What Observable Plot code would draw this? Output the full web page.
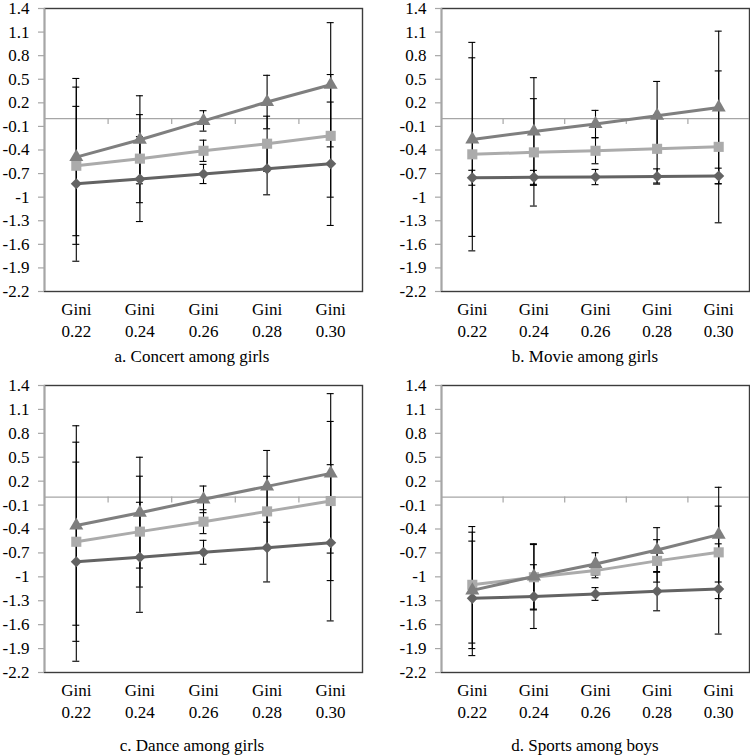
<!DOCTYPE html>
<html>
<head>
<meta charset="utf-8">
<script src="https://cdn.jsdelivr.net/npm/d3@7"></script>
<script src="https://cdn.jsdelivr.net/npm/@observablehq/plot@0.6"></script>
<style>
  body { margin: 0; background: #fff; }
  #root { position: relative; width: 750px; height: 756px; font-family: 'Liberation Serif', 'Times New Roman', Times, 'Nimbus Roman', 'FreeSerif', 'DejaVu Serif', 'Noto Serif', serif; color: #000; }
  .panel { position: absolute; }
  .panel svg { overflow: visible; }
  .panel svg text { font-family: 'Liberation Serif', 'Times New Roman', Times, 'Nimbus Roman', 'FreeSerif', 'DejaVu Serif', 'Noto Serif', serif; }
  .cap { position: absolute; font-size: 17px; line-height: 20px; text-align: center; white-space: nowrap; color: #000; }
</style>
</head>
<body>
<div id="root"></div>
<script>
// ---------- categories & tick labels ----------
const giniValues = [0.22, 0.24, 0.26, 0.28, 0.30];
const giniLabels = ["Gini\n0.22", "Gini\n0.24", "Gini\n0.26", "Gini\n0.28", "Gini\n0.30"];
const yTickValues = [1.4, 1.1, 0.8, 0.5, 0.2, -0.1, -0.4, -0.7, -1, -1.3, -1.6, -1.9, -2.2];
const yTickLabels = ["1.4", "1.1", "0.8", "0.5", "0.2", "-0.1", "-0.4", "-0.7", "-1", "-1.3", "-1.6", "-1.9", "-2.2"];
const panelTitles = ["a. Concert among girls", "b. Movie among girls", "c. Dance among girls", "d. Sports among boys"];

// ---------- a. Concert among girls ----------
const concertTriangle    = [-0.49, -0.27, -0.03, 0.21, 0.43];
const concertTriangleErr = [1.00, 0.56, 0.13, 0.34, 0.79];
const concertSquare      = [-0.60, -0.51, -0.41, -0.32, -0.22];
const concertSquareErr   = [1.00, 0.56, 0.135, 0.35, 0.78];
const concertDiamond     = [-0.83, -0.77, -0.705, -0.64, -0.575];
const concertDiamondErr  = [0.985, 0.54, 0.122, 0.33, 0.785];

// ---------- b. Movie among girls ----------
const movieTriangle    = [-0.265, -0.165, -0.069, 0.037, 0.142];
const movieTriangleErr = [1.234, 0.685, 0.173, 0.435, 0.97];
const movieSquare      = [-0.455, -0.43, -0.41, -0.385, -0.36];
const movieSquareErr   = [1.228, 0.683, 0.165, 0.435, 0.966];
const movieDiamond     = [-0.753, -0.748, -0.744, -0.737, -0.731];
const movieDiamondErr  = [0.095, 0.089, 0.097, 0.097, 0.10];

// ---------- c. Dance among girls ----------
const danceTriangle    = [-0.356, -0.195, -0.028, 0.135, 0.298];
const danceTriangleErr = [1.251, 0.695, 0.167, 0.45, 1.0];
const danceSquare      = [-0.56, -0.433, -0.308, -0.179, -0.049];
const danceSquareErr   = [1.249, 0.695, 0.15, 0.44, 0.998];
const danceDiamond     = [-0.81, -0.755, -0.692, -0.634, -0.573];
const danceDiamondErr  = [1.249, 0.69, 0.15, 0.43, 0.98];

// ---------- d. Sports among boys ----------
const sportsTriangle    = [-1.17, -0.995, -0.838, -0.663, -0.471];
const sportsTriangleErr = [0.73, 0.41, 0.14, 0.28, 0.594];
const sportsSquare      = [-1.10, -1.005, -0.922, -0.80, -0.693];
const sportsSquareErr   = [0.731, 0.41, 0.09, 0.266, 0.58];
const sportsDiamond     = [-1.27, -1.248, -1.215, -1.18, -1.152];
const sportsDiamondErr  = [0.718, 0.40, 0.08, 0.246, 0.566];

// ---------- styles ----------
const seriesStyle = [
  {key: "diamond",  symbol: "diamond2", color: "#636363", r: 5.0},
  {key: "square",   symbol: "square",   color: "#ababab", r: 5.7},
  {key: "triangle", symbol: "triangle", color: "#7f7f7f", r: 5.2}
];

const panels = [
  {title: panelTitles[0], values: [concertDiamond, concertSquare, concertTriangle], errs: [concertDiamondErr, concertSquareErr, concertTriangleErr],
   left: 0, top: 0, height: 345, mL: 44, mR: 13, mT: 8, mB: 54, capX: 192, capY: 357},
  {title: panelTitles[1], values: [movieDiamond, movieSquare, movieTriangle], errs: [movieDiamondErr, movieSquareErr, movieTriangleErr],
   left: 375, top: 0, height: 345, mL: 66, mR: 1, mT: 8, mB: 54, capX: 585, capY: 357},
  {title: panelTitles[2], values: [danceDiamond, danceSquare, danceTriangle], errs: [danceDiamondErr, danceSquareErr, danceTriangleErr],
   left: 0, top: 378, height: 348, mL: 44, mR: 13, mT: 7, mB: 54, capX: 192, capY: 746},
  {title: panelTitles[3], values: [sportsDiamond, sportsSquare, sportsTriangle], errs: [sportsDiamondErr, sportsSquareErr, sportsTriangleErr],
   left: 375, top: 378, height: 348, mL: 66, mR: 1, mT: 7, mB: 54, capX: 585, capY: 746}
];

const root = document.getElementById("root");
const yDomain = [yTickValues[yTickValues.length - 1], yTickValues[0]];
const step = giniValues[1] - giniValues[0];
const xDomain = [giniValues[0] - step / 2, giniValues[giniValues.length - 1] + step / 2];
const bounds = giniValues.slice(1).map((g, i) => (g + giniValues[i]) / 2);
const axisGrey = "#a6a6a6";
const fontStack = "'Liberation Serif', 'Times New Roman', Times, 'Nimbus Roman', 'FreeSerif', 'DejaVu Serif', 'Noto Serif', serif";

for (const p of panels) {
  const rows = [];
  seriesStyle.forEach((s, si) => {
    p.values[si].forEach((v, i) => {
      const e = p.errs[si][i];
      rows.push({series: s.key, gini: giniValues[i], value: v, lo: v - e, hi: v + e});
    });
  });

  const marks = [
    Plot.frame({stroke: "#3c3c3c", strokeWidth: 1.4}),
    Plot.ruleY([0], {y: d => d, stroke: axisGrey, strokeWidth: 1.3}),
    Plot.ruleX(bounds, {x: d => d, y1: () => 0, y2: () => 0, insetBottom: -6, stroke: axisGrey, strokeWidth: 1.2}),
    Plot.ruleX([xDomain[0]], {x: d => d, y1: () => yDomain[0], y2: () => yDomain[1], stroke: axisGrey, strokeWidth: 1.6}),
    Plot.ruleY(yTickValues, {y: d => d, x1: () => xDomain[0], x2: () => xDomain[0], insetLeft: -6, stroke: axisGrey, strokeWidth: 1.2}),
    Plot.text(yTickValues, {y: d => d, text: (d, i) => yTickLabels[i], frameAnchor: "left", textAnchor: "end", dx: -15, fill: "#000"}),
    Plot.text(giniValues, {x: d => d, text: (d, i) => giniLabels[i], frameAnchor: "bottom", lineAnchor: "top", dy: 8, lineHeight: 1.28, fill: "#000"}),
    // error bars
    Plot.ruleX(rows, {x: "gini", y1: "lo", y2: "hi", stroke: "#000", strokeWidth: 1.1}),
    Plot.ruleY(rows, {y: "lo", x1: "gini", x2: "gini", insetLeft: -3.5, insetRight: -3.5, stroke: "#000", strokeWidth: 1.1}),
    Plot.ruleY(rows, {y: "hi", x1: "gini", x2: "gini", insetLeft: -3.5, insetRight: -3.5, stroke: "#000", strokeWidth: 1.1})
  ];
  for (const s of seriesStyle) {
    const data = rows.filter(r => r.series === s.key);
    marks.push(Plot.line(data, {x: "gini", y: "value", stroke: s.color, strokeWidth: 3}));
    marks.push(Plot.dot(data, {x: "gini", y: "value", symbol: () => s.symbol, r: s.r, fill: s.color, stroke: "none"}));
  }

  const chart = Plot.plot({
    width: 375,
    height: p.height,
    marginTop: p.mT,
    marginBottom: p.mB,
    marginLeft: p.mL,
    marginRight: p.mR,
    x: {domain: xDomain, axis: null},
    y: {domain: yDomain, axis: null},
    symbol: {type: "identity"},
    style: {fontFamily: fontStack, fontSize: "17px", background: "transparent", overflow: "visible"},
    marks
  });
  const div = document.createElement("div");
  div.className = "panel";
  div.style.left = p.left + "px";
  div.style.top = p.top + "px";
  div.appendChild(chart);
  root.appendChild(div);

  const cap = document.createElement("div");
  cap.className = "cap";
  cap.textContent = p.title;
  cap.style.left = (p.capX - 150) + "px";
  cap.style.width = "300px";
  cap.style.top = (p.capY - 10) + "px";
  root.appendChild(cap);
}
</script>
</body>
</html>
